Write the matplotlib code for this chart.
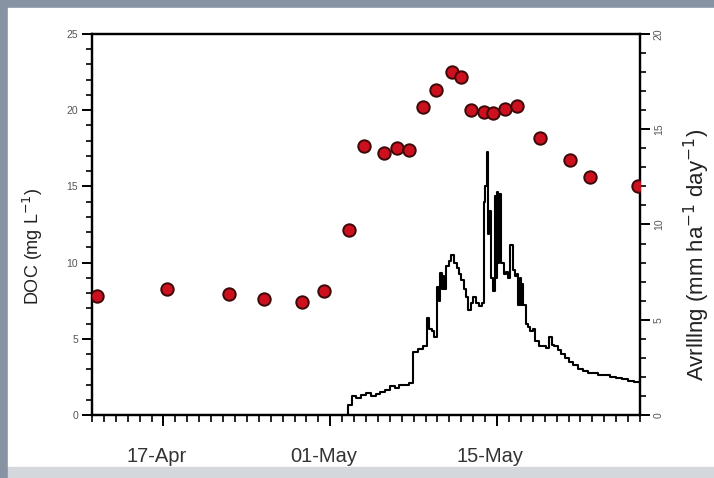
import numpy as np
import pandas as pd
import matplotlib
matplotlib.use("Agg")
import matplotlib.pyplot as plt
import matplotlib.dates as mdates
from matplotlib.patches import Rectangle
from matplotlib.ticker import MultipleLocator, FixedLocator
from matplotlib.transforms import ScaledTranslation

plt.rcParams['font.family'] = ['Liberation Sans', 'DejaVu Sans']

start = pd.Timestamp('2009-04-11')

# DOC samples (days after start, mg/L)
doc_day = [0.4, 6.3, 11.5, 14.45, 17.6, 19.5, 21.6, 22.8, 24.5, 25.6, 26.6,
           27.8, 28.9, 30.2, 31.0, 31.8, 32.9, 33.7, 34.7, 35.7, 37.6,
           40.1, 41.8, 45.8]
doc_val = [7.8, 8.3, 7.95, 7.6, 7.4, 8.15, 12.15, 17.65, 17.2, 17.5, 17.4,
           20.2, 21.3, 22.5, 22.2, 20.0, 19.9, 19.8, 20.1, 20.3, 18.2,
           16.7, 15.6, 15.0]

# flow record (days after start, right axis units)
q_day = [0.0, 21.2, 21.5, 21.8, 22.2, 22.6, 23.0, 23.4, 23.8, 24.2, 24.6,
         25.0, 25.4, 25.8, 26.2, 26.6, 26.95, 27.4, 27.8, 28.1, 28.3, 28.5,
         28.7, 28.95, 29.1, 29.25, 29.35, 29.45, 29.55, 29.75, 29.95, 30.15,
         30.4, 30.6, 30.8, 31.0, 31.2, 31.4, 31.6, 31.8, 32.0, 32.2, 32.45,
         32.7, 32.9, 33.0, 33.15, 33.25, 33.35, 33.5, 33.65, 33.8, 33.9,
         34.0, 34.1, 34.2, 34.35, 34.55, 34.75, 34.95, 35.1, 35.3, 35.5,
         35.7, 35.8, 35.9, 36.0, 36.1, 36.2, 36.4, 36.6, 36.8, 37.0, 37.2,
         37.5, 37.8, 38.1, 38.4, 38.6, 38.8, 39.1, 39.4, 39.7, 40.0, 40.4,
         40.8, 41.2, 41.6, 42.0, 42.5, 43.0, 43.5, 44.0, 44.5, 45.0, 45.5,
         46.0]
q_val = [0.0, 0.0, 0.5, 1.0, 0.9, 1.05, 1.15, 1.0, 1.1, 1.2, 1.3,
         1.5, 1.4, 1.55, 1.6, 1.7, 3.3, 3.45, 3.6, 5.1, 4.5, 4.4,
         4.1, 6.7, 6.0, 7.45, 6.6, 7.3, 6.6, 7.8, 8.1, 8.4,
         8.0, 7.7, 7.4, 7.1, 6.6, 6.2, 5.5, 5.9, 6.2, 5.9, 5.7,
         5.9, 11.2, 12.0, 13.8, 9.5, 10.7, 7.2, 6.5, 11.5, 7.2,
         11.7, 8.0, 11.6, 8.0, 7.4, 7.5, 7.2, 8.9, 7.6, 7.3,
         7.4, 5.8, 7.2, 5.8, 6.9, 5.8, 4.8, 4.6, 4.4, 4.5, 3.9,
         3.6, 3.6, 3.5, 4.1, 3.7, 3.6, 3.4, 3.2, 3.0, 2.8, 2.6,
         2.4, 2.3, 2.2, 2.2, 2.1, 2.1, 2.0, 1.95, 1.9, 1.8, 1.75,
         1.7]

tick_dates = ['2009-04-17', '2009-05-01', '2009-05-15']
x_range = ['2009-04-11', '2009-05-27']

doc_t = start + pd.to_timedelta(doc_day, unit='D')
q_t = start + pd.to_timedelta(q_day, unit='D')

fig = plt.figure(figsize=(7.14, 4.78), dpi=100, facecolor='#8793a3')
# white page with a light strip underneath
fig.patches.append(Rectangle((8 / 714, 11 / 478), 1, 1 - 19 / 478,
                             transform=fig.transFigure, color='white', zorder=-2))
fig.patches.append(Rectangle((8 / 714, 0), 1, 11 / 478,
                             transform=fig.transFigure, color='#d4d7db', zorder=-2))

ax = fig.add_axes([92 / 714, 1 - 415 / 478, 548 / 714, 381 / 478])
ax2 = ax.twinx()

ax2.plot(q_t, q_val, color='black', lw=1.5, drawstyle='steps-post', zorder=2)
ax.scatter(doc_t, doc_val, s=80, facecolor='#cc101e', edgecolor='#3c0808',
           linewidth=1.4, zorder=3)

ax.set_zorder(ax2.get_zorder() + 1)
ax.patch.set_visible(False)

ax.set_xlim(pd.Timestamp(x_range[0]), pd.Timestamp(x_range[1]))
ax.set_ylim(0, 25)
ax2.set_ylim(0, 20)

for a in (ax, ax2):
    for sp in a.spines.values():
        sp.set_linewidth(1.6)

ax.xaxis.set_major_locator(FixedLocator(mdates.datestr2num(tick_dates)))
ax.xaxis.set_minor_locator(mdates.DayLocator())
ax.xaxis.set_major_formatter(mdates.DateFormatter('%d-%b'))
ax.yaxis.set_major_locator(MultipleLocator(5))
ax.yaxis.set_minor_locator(MultipleLocator(1))
ax2.yaxis.set_major_locator(MultipleLocator(5))
ax2.yaxis.set_minor_locator(MultipleLocator(1))

ax.tick_params(axis='x', which='major', length=8, width=1.4, pad=15,
               labelsize=14.5, labelcolor='#333333')
ax.tick_params(axis='x', which='minor', length=5, width=1.2)
ax.tick_params(axis='y', which='major', length=7, width=1.4, pad=3,
               labelsize=7.5, labelcolor='#555555')
ax.tick_params(axis='y', which='minor', length=4, width=1.2)
ax2.tick_params(axis='y', which='major', length=7, width=1.4, pad=3,
                labelsize=7.5, labelcolor='#555555', labelrotation=90)
ax2.tick_params(axis='y', which='minor', length=4, width=1.2)
for lbl in ax2.get_yticklabels():
    lbl.set_va('center')

# shift date labels slightly left of their ticks
shift = ScaledTranslation(-7 / 100, 0, fig.dpi_scale_trans)
for lbl in ax.get_xticklabels():
    lbl.set_transform(lbl.get_transform() + shift)

fig.text(33 / 714, 1 - 246 / 478, 'DOC (mg L$^{-1}$)', rotation=90,
         ha='center', va='center', fontsize=13, color='#222222')
fig.text(697 / 714, 1 - 255 / 478, 'Avrlllng (mm ha$^{-1}$ day$^{-1}$)',
         rotation=90, ha='center', va='center', fontsize=16, color='#222222')

fig.savefig('out.png', dpi=100, facecolor=fig.get_facecolor())
